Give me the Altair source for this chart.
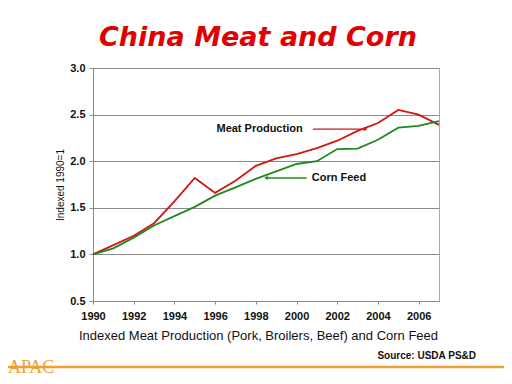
import altair as alt
import pandas as pd

years = list(range(1990, 2008))
meat = [1.00, 1.10, 1.20, 1.335, 1.57, 1.82, 1.66, 1.79, 1.95, 2.03, 2.075, 2.14,
        2.22, 2.325, 2.41, 2.55, 2.50, 2.39]
corn = [1.00, 1.065, 1.18, 1.31, 1.41, 1.51, 1.63, 1.72, 1.81, 1.89, 1.97, 2.00,
        2.13, 2.135, 2.23, 2.36, 2.38, 2.43]
series = ["Meat Production", "Corn Feed"]
colors = ["#d41515", "#1e8a1e"]

# annotation labels and arrows (data coordinates)
ann_text = ["Meat Production", "Corn Feed"]
ann_x = [2000.3, 2000.75]
ann_y = [2.345, 1.82]
arrow_x1 = [2000.8, 2000.5]
arrow_x2 = [2003.4, 1998.5]
arrow_tip = [2003.4, 1998.5]
arrow_shape = ["triangle-right", "triangle-left"]

rows = []
for i, y in enumerate(years):
    rows.append({"year": y, "value": meat[i], "series": series[0]})
    rows.append({"year": y, "value": corn[i], "series": series[1]})
df = pd.DataFrame(rows)

ann = pd.DataFrame({"text": ann_text, "x": ann_x, "y": ann_y,
                    "x1": arrow_x1, "x2": arrow_x2, "tip": arrow_tip,
                    "shape": arrow_shape, "series": series})

FONT = "Liberation Sans"
xscale = alt.Scale(domain=[1990, 2007], nice=False, zero=False)
yscale = alt.Scale(domain=[0.5, 3.0], nice=False, zero=False)
cscale = alt.Scale(domain=series, range=colors)

lines = alt.Chart(df).mark_line(strokeWidth=1.8).encode(
    x=alt.X("year:Q", scale=xscale,
            axis=alt.Axis(values=years, format="d",
                          labelExpr="datum.value % 2 == 0 ? datum.label : ''",
                          grid=False, tickSize=3, labelPadding=6,
                          labelFont=FONT, labelFontSize=11, labelFontWeight="bold",
                          labelColor="#111", domainColor="#888", tickColor="#888",
                          title="Indexed Meat Production (Pork, Broilers, Beef) and Corn Feed",
                          titleFont=FONT, titleFontSize=13, titleFontWeight="normal",
                          titleColor="#111", titleX=165, titleY=38,
                          titleBaseline="alphabetic", titleAlign="center",
                          labelFlush=False)),
    y=alt.Y("value:Q", scale=yscale,
            axis=alt.Axis(values=[0.5, 1.0, 1.5, 2.0, 2.5, 3.0], format=".1f",
                          grid=True, gridColor="#8a8a8a", gridWidth=1,
                          tickSize=4, labelPadding=4, domainColor="#888",
                          tickColor="#888",
                          labelFont=FONT, labelFontSize=11, labelFontWeight="bold",
                          labelColor="#111",
                          title="Indexed 1990=1", titleFont=FONT, titleFontSize=10,
                          titleFontWeight="normal", titleColor="#111",
                          titlePadding=4)),
    color=alt.Color("series:N", scale=cscale, legend=None),
)

ann_meat = ann[ann["series"] == series[0]]
ann_corn = ann[ann["series"] == series[1]]

label_meat = alt.Chart(ann_meat).mark_text(font=FONT, fontSize=11, fontWeight="bold",
                                           color="#111", baseline="middle",
                                           align="right").encode(
    x=alt.X("x:Q", scale=xscale), y=alt.Y("y:Q", scale=yscale), text="text:N")

label_corn = alt.Chart(ann_corn).mark_text(font=FONT, fontSize=11, fontWeight="bold",
                                           color="#111", baseline="middle",
                                           align="left").encode(
    x=alt.X("x:Q", scale=xscale), y=alt.Y("y:Q", scale=yscale), text="text:N")

arrows = alt.Chart(ann).mark_rule(strokeWidth=1.3).encode(
    x=alt.X("x1:Q", scale=xscale),
    x2="x2:Q",
    y=alt.Y("y:Q", scale=yscale),
    color=alt.Color("series:N", scale=cscale, legend=None),
)

heads = alt.Chart(ann).mark_point(filled=True, size=18, opacity=1).encode(
    x=alt.X("tip:Q", scale=xscale),
    y=alt.Y("y:Q", scale=yscale),
    shape=alt.Shape("shape:N", scale=None),
    color=alt.Color("series:N", scale=cscale, legend=None),
)

source = alt.Chart(pd.DataFrame({"t": ["Source: USDA PS&D"]})).mark_text(
    font=FONT, fontSize=10, fontWeight="bold", color="#111", align="right",
    baseline="alphabetic").encode(x=alt.value(383), y=alt.value(291), text="t:N")

orange = alt.Chart(pd.DataFrame({"a": [1]})).mark_rule(
    color="#f0a030", strokeWidth=2.5).encode(
    x=alt.value(-93), x2=alt.value(419), y=alt.value(299))

logo = alt.Chart(pd.DataFrame({"t": ["APAC"]})).mark_text(
    font="Liberation Serif", fontSize=18, color="#f0a030", align="left",
    baseline="alphabetic").encode(x=alt.value(-85), y=alt.value(305), text="t:N")

chart = alt.layer(lines, arrows, heads, label_meat, label_corn, source, orange, logo).properties(
    width=346, height=233,
    background="white",
    autosize=alt.AutoSizeParams(type="none"),
    padding={"left": 85, "top": 60, "right": 65, "bottom": 75},
    title=alt.TitleParams("China Meat and Corn", font="DejaVu Sans", fontSize=27,
                          fontWeight="bold", fontStyle="italic", color="#e00000",
                          anchor="middle", offset=10, dx=-8),
).configure_view(stroke="#aaaaaa", strokeWidth=1)

chart.save("out.html", embed_options={"renderer": "svg", "actions": False})
